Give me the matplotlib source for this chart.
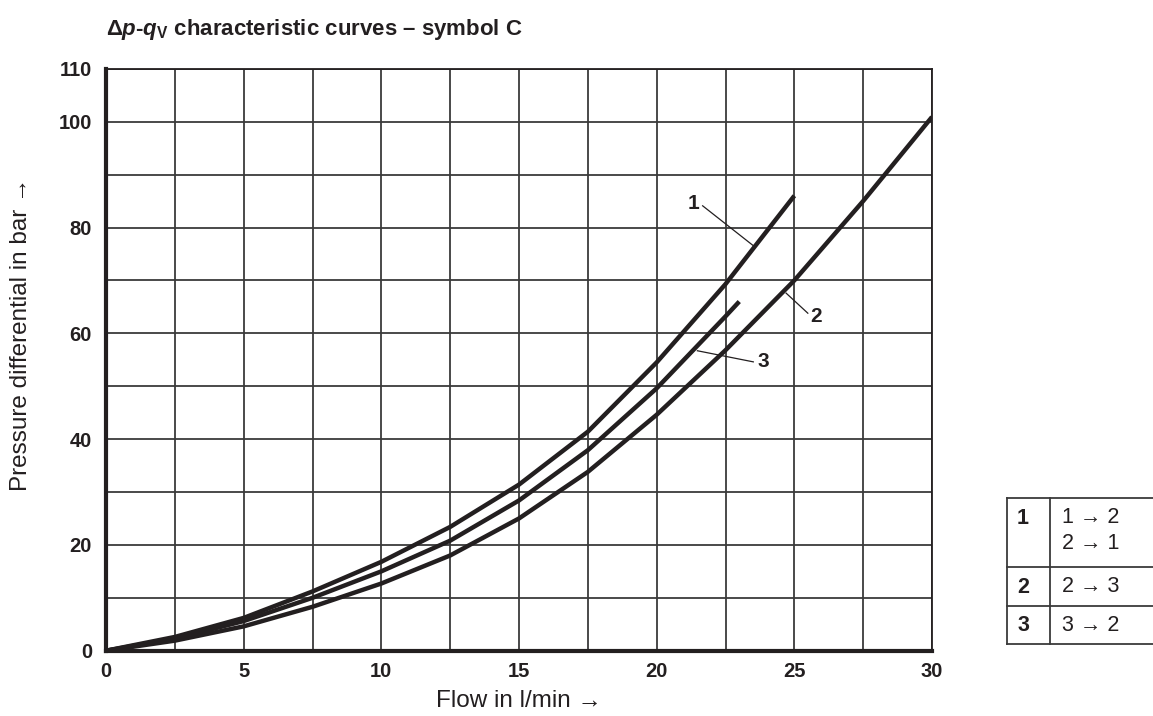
import matplotlib
matplotlib.use("Agg")
import matplotlib.pyplot as plt
from matplotlib.lines import Line2D
import numpy as np

plt.rcParams['font.family'] = ['Liberation Sans', 'DejaVu Sans']
plt.rcParams['mathtext.fontset'] = 'custom'
plt.rcParams['mathtext.it'] = 'Liberation Sans:italic:bold'
plt.rcParams['mathtext.rm'] = 'Liberation Sans:bold'

# values
flow_1 = [0, 2.5, 5, 7.5, 10, 12.5, 15, 17.5, 20, 22.5, 25]
dp_1 = [0, 2.6, 6.2, 11.2, 16.8, 23.4, 31.4, 41.4, 54.5, 69.3, 86.0]

flow_2 = [0, 2.5, 5, 7.5, 10, 12.5, 15, 17.5, 20, 22.5, 25, 27.5, 30]
dp_2 = [0, 1.9, 4.6, 8.3, 12.7, 18.0, 25.0, 33.8, 44.6, 56.8, 70.0, 85.0, 100.9]

flow_3 = [0, 2.5, 5, 7.5, 10, 12.5, 15, 17.5, 20, 22.5, 23]
dp_3 = [0, 2.3, 5.6, 10.0, 15.0, 20.8, 28.4, 37.9, 49.6, 63.2, 66.0]

curve_names = ["1", "2", "3"]
label_pos = [(21.33, 84.6), (25.79, 63.1), (23.87, 54.6)]
leader_lines = [((21.67, 84.1), (23.55, 76.4)),
                ((25.49, 63.8), (24.70, 67.6)),
                ((23.51, 54.6), (21.48, 56.7))]

x_ticks = [0, 5, 10, 15, 20, 25, 30]
y_ticks = [0, 20, 40, 60, 80, 100, 110]

table_keys = ["1", "2", "3"]
table_vals = ["1 \u2192 2\n2 \u2192 1", "2 \u2192 3", "3 \u2192 2"]

W, H = 1153, 716
fig = plt.figure(figsize=(W / 100, H / 100), dpi=100)
ax = fig.add_axes([106 / W, 1 - 650.7 / H, 826 / W, 581.9 / H])

ink = '#231f20'
for fx, dy in [(flow_1, dp_1), (flow_2, dp_2), (flow_3, dp_3)]:
    ax.plot(fx, dy, color=ink, lw=3.2, solid_capstyle='butt',
            solid_joinstyle='round', zorder=3)

for name, (lx, ly), (p0, p1) in zip(curve_names, label_pos, leader_lines):
    ax.plot([p0[0], p1[0]], [p0[1], p1[1]], color=ink, lw=0.9, zorder=3)
    ax.text(lx, ly, name, ha='center', va='center', fontsize=15,
            fontweight='bold', color=ink)

ax.set_xlim(0, 30)
ax.set_ylim(0, 110)
ax.set_xticks(x_ticks)
ax.set_xticks(np.arange(2.5, 30, 5), minor=True)
ax.set_yticks(y_ticks)
ax.set_yticks(np.arange(10, 100, 20), minor=True)
ax.tick_params(which='both', length=0)
ax.tick_params(axis='y', pad=10)
ax.tick_params(axis='x', pad=8)
for lab in ax.get_xticklabels() + ax.get_yticklabels():
    lab.set_fontweight('bold')
    lab.set_fontsize(14.5)
    lab.set_color(ink)
ax.grid(True, which='both', color='#3a3a3a', lw=1.3)
ax.set_axisbelow(True)
ax.spines['left'].set_linewidth(3)
ax.spines['bottom'].set_linewidth(3)
ax.spines['top'].set_linewidth(1.3)
ax.spines['right'].set_linewidth(1.3)
for s in ax.spines.values():
    s.set_color(ink)
    s.set_zorder(4)

fig.text(106 / W, 1 - 30 / H,
         r"$\mathit{Δp}$-$\mathit{q}_{\mathrm{V}}$" + " characteristic curves \u2013 symbol C",
         fontsize=16, fontweight='bold', ha='left', va='center', color=ink)
fig.text(21 / W, 1 - 334 / H, "Pressure differential in bar \u2192", rotation=90,
         ha='center', va='center', fontsize=17.5, color=ink)
fig.text(519 / W, 1 - 701 / H, "Flow in l/min \u2192", ha='center', va='center',
         fontsize=17.5, color=ink)

# legend table on the right
tl, tm, tr = 1006.7, 1050, 1153
rows = [498.3, 567.3, 605.7, 644.3]
lc = '#3a3a3a'
for ry in rows:
    fig.add_artist(Line2D([tl / W, tr / W], [1 - ry / H, 1 - ry / H],
                          color=lc, lw=1.3))
for cx in (tl, tm):
    fig.add_artist(Line2D([cx / W, cx / W], [1 - rows[0] / H, 1 - rows[-1] / H],
                          color=lc, lw=1.3))
for i, (k, v) in enumerate(zip(table_keys, table_vals)):
    top = rows[i]
    fig.text(1023 / W, 1 - (top + 20) / H, k, ha='center', va='center',
             fontsize=15.5, fontweight='bold', color=ink)
    fig.text(1062 / W, 1 - (top + 9) / H, v, ha='left', va='top',
             fontsize=15.5, color=ink, linespacing=1.3)

fig.savefig("out.png", dpi=100)
